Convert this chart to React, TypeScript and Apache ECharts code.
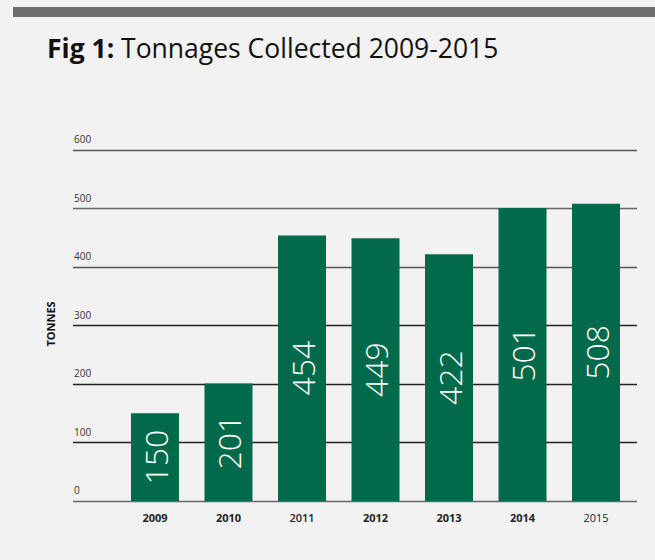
import React, { useEffect, useRef } from "react";
import * as echarts from "echarts";

const years = ["2009", "2010", "2011", "2012", "2013", "2014", "2015"];
const tonnes = [150, 201, 454, 449, 422, 501, 508];
const yearWeights = ["bold", "bold", 600, "bold", "bold", "bold", "normal"];
const yTicks = [0, 100, 200, 300, 400, 500, 600];

export default function App() {
  const ref = useRef<HTMLDivElement>(null);
  useEffect(() => {
    if (!ref.current) return;
    const chart = echarts.init(ref.current, null, { renderer: "svg" });
    chart.setOption({
      animation: false,
      backgroundColor: "#f2f2f2",
      textStyle: { fontFamily: "Open Sans" },
      graphic: [
        { type: "rect", shape: { x: 13, y: 7, width: 642, height: 10 }, style: { fill: "#6e6e6e" } },
        {
          type: "text",
          left: 47,
          top: 34,
          style: {
            text: "{b|Fig 1:}{r| Tonnages Collected 2009-2015}",
            rich: {
              b: { fontFamily: "Open Sans", fontWeight: "bold", fontSize: 26.5, fill: "#111" },
              r: { fontFamily: "Open Sans", fontSize: 26.5, fill: "#111" },
            },
          },
        },
        {
          type: "text",
          x: 50,
          y: 324,
          rotation: Math.PI / 2,
          style: {
            text: "TONNES",
            fontFamily: "Open Sans",
            fontWeight: "bold",
            fontSize: 11,
            fill: "#111",
            align: "center",
            verticalAlign: "middle",
          },
        },
      ],
      grid: [
        { left: 73, right: 18, top: 150, bottom: 59 },
        { left: 118.25, right: 22.25, top: 150, bottom: 59 },
      ],
      xAxis: [
        { type: "value", gridIndex: 0, show: false, min: 0, max: 1 },
        {
          type: "category",
          gridIndex: 1,
          data: years.map((y, i) => ({
            value: y,
            textStyle: { fontWeight: yearWeights[i] },
          })),
          axisLine: { show: false },
          axisTick: { show: false },
          axisLabel: { color: "#222", fontSize: 11, margin: 11, fontFamily: "Open Sans" },
        },
      ],
      yAxis: [
        {
          type: "value",
          gridIndex: 0,
          min: 0,
          max: 600,
          interval: 100,
          axisLine: { show: false },
          axisTick: { show: false },
          axisLabel: {
            inside: true,
            margin: 1,
            color: "#333",
            fontSize: 10,
            fontFamily: "Open Sans",
            verticalAlign: "bottom",
            padding: [0, 0, 6, 0],
            formatter: (v: number) => (yTicks.includes(v) ? String(v) : ""),
          },
          splitLine: {
            lineStyle: {
              width: 1.3,
              color: ["#666", "#222", "#222", "#222", "#555", "#666", "#555"],
            },
          },
        },
        { type: "value", gridIndex: 1, min: 0, max: 600, show: false },
      ],
      series: [
        {
          type: "bar",
          xAxisIndex: 1,
          yAxisIndex: 1,
          data: tonnes,
          barWidth: 48,
          itemStyle: { color: "#006a4a" },
          label: {
            show: true,
            position: "inside",
            rotate: 90,
            color: "#fff",
            fontSize: 32,
            fontWeight: 300,
            fontFamily: "Open Sans",
          },
        },
      ],
    });
    return () => chart.dispose();
  }, []);
  return (
    <div
      ref={ref}
      style={{ position: "fixed", left: 0, top: 0, width: 655, height: 560 }}
    />
  );
}
